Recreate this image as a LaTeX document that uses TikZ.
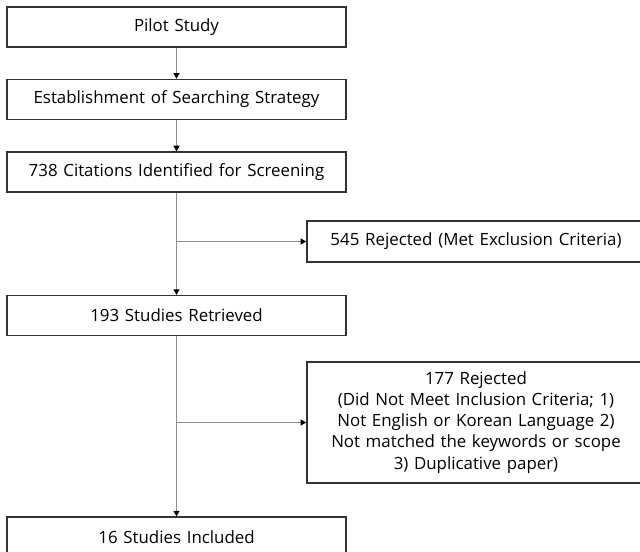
\documentclass[tikz,border=0pt]{standalone}
\usepackage{fontspec}
\setmainfont{Open Sans}
\usetikzlibrary{positioning,arrows.meta}
\definecolor{marco}{HTML}{333333}
\definecolor{linea}{HTML}{8C8C8C}
\newcommand{\letra}{\fontsize{12}{15}\selectfont\spaceskip=0.34em plus 0.1em\relax}

\begin{document}
\begin{tikzpicture}[font=\letra, >={Triangle[length=1.4mm, width=1.5mm, color=black]},
      caja/.style={draw=marco, line width=1.1pt, minimum width=8.475cm, minimum height=1cm,
                   inner sep=0pt, align=center},
      flecha/.style={->, draw=linea, line width=0.9pt}]
    \useasboundingbox (0,0) rectangle (16,-13.775);
    \node[caja] (pilot) at (4.4125,-0.675) {Pilot Study};
    \node[caja, below=0.775cm of pilot] (estab) {Establishment of Searching Strategy};
    \node[caja, below=0.775cm of estab] (cit) {738 Citations Identified for Screening};
    \node[caja, below=2.55cm of cit] (ret) {193 Studies Retrieved};
    \node[caja, below=4.5cm of ret] (inc) {16 Studies Included};
    \node[caja, minimum width=8.45cm, minimum height=1.025cm] (rej1) at (11.9,-6.0375)
        {545 Rejected (Met Exclusion Criteria)};
    \node[caja, minimum width=8.45cm, minimum height=3.025cm, text width=8.2cm] (rej2) at (11.9,-10.5625)
        {177 Rejected\\ (Did Not Meet Inclusion Criteria; 1)\\Not English or Korean Language 2)\\Not matched the keywords or scope\\3) Duplicative paper)};
    \coordinate (r1) at (cit.south |- rej1.west);
    \coordinate (r2) at (ret.south |- rej2.west);
    \draw[flecha] (pilot) -- (estab);
    \draw[flecha] (estab) -- (cit);
    \draw[flecha] (cit) -- (ret);
    \draw[flecha] (r1) -- (rej1.west);
    \draw[flecha] (ret) -- (inc);
    \draw[flecha] (r2) -- (rej2.west);
  \end{tikzpicture}
\end{document}
